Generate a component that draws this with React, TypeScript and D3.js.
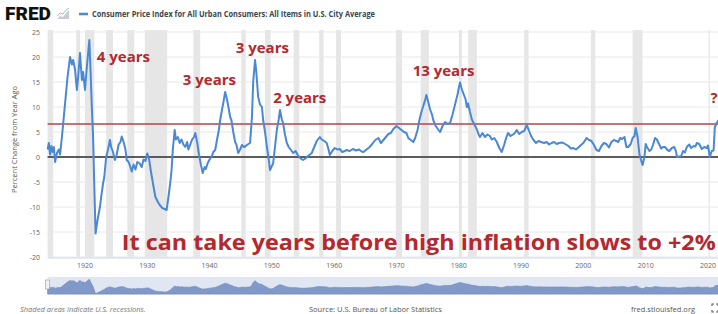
import React, { useRef, useEffect } from "react";
import * as d3 from "d3";

// CPI, percent change from year ago as [year, value]
const cpiChange: [number, number][] = [
  [1914.0, 1.5], [1914.2, 2.8], [1914.4, 0.5], [1914.6, 2.2], [1914.8, 1.0], [1915.0, 2.0],
  [1915.2, -1.0], [1915.5, 0.8], [1915.8, 1.5], [1916.0, 0.5], [1916.3, 4.0], [1916.6, 8.0],
  [1916.9, 12.0], [1917.2, 16.0], [1917.6, 20.0], [1917.9, 18.5], [1918.1, 19.4], [1918.4, 17.5],
  [1918.7, 13.4], [1918.9, 16.0], [1919.2, 20.8], [1919.5, 15.4], [1919.7, 17.0], [1920.0, 13.4],
  [1920.3, 18.0], [1920.7, 23.4], [1920.9, 17.0], [1921.1, 10.0], [1921.3, 4.0], [1921.5, -6.0],
  [1921.7, -15.3], [1921.9, -13.5], [1922.1, -12.0], [1922.4, -10.0], [1922.6, -8.0], [1922.9, -5.3],
  [1923.1, -4.0], [1923.4, 0.0], [1923.7, 1.5], [1924.0, 3.4], [1924.2, 2.0], [1924.5, 1.0],
  [1924.8, -0.6], [1925.1, 0.5], [1925.4, 2.5], [1925.7, 3.0], [1925.9, 4.1], [1926.2, 3.0],
  [1926.5, 1.5], [1926.7, -0.6], [1927.0, -1.0], [1927.3, -2.0], [1927.5, -2.9], [1927.8, -1.5],
  [1928.1, -2.5], [1928.4, -1.0], [1928.8, -1.3], [1929.1, -2.0], [1929.4, -0.5], [1929.7, -0.8],
  [1930.0, 0.7], [1930.3, -0.5], [1930.6, -3.0], [1931.0, -5.9], [1931.3, -8.0], [1931.7, -9.0],
  [1932.0, -9.6], [1932.4, -10.2], [1932.8, -10.4], [1933.1, -10.6], [1933.4, -8.0], [1933.7, -5.0],
  [1933.9, -2.6], [1934.1, 1.5], [1934.4, 5.4], [1934.6, 3.5], [1934.9, 4.0], [1935.2, 2.8],
  [1935.5, 3.5], [1935.8, 2.5], [1936.1, 2.0], [1936.4, 3.0], [1936.6, 1.5], [1936.9, 2.5],
  [1937.2, 3.5], [1937.5, 4.0], [1937.7, 4.8], [1938.0, 3.0], [1938.3, 0.5], [1938.6, -1.5],
  [1938.9, -3.2], [1939.2, -2.0], [1939.4, -2.4], [1939.7, -1.2], [1940.0, -0.5], [1940.3, 0.0],
  [1940.6, 1.0], [1940.9, 1.4], [1941.2, 3.5], [1941.5, 5.5], [1941.7, 7.4], [1942.0, 9.5],
  [1942.3, 11.5], [1942.5, 13.0], [1942.8, 11.5], [1943.1, 9.5], [1943.3, 8.0], [1943.5, 7.4],
  [1943.8, 5.0], [1944.1, 3.0], [1944.3, 2.5], [1944.6, 0.8], [1944.9, 1.5], [1945.2, 2.4],
  [1945.5, 2.0], [1945.8, 2.2], [1946.1, 2.5], [1946.5, 2.8], [1946.8, 8.0], [1947.0, 15.0],
  [1947.3, 19.4], [1947.5, 17.0], [1947.8, 12.0], [1948.1, 10.5], [1948.4, 10.0], [1948.6, 7.4],
  [1948.9, 5.0], [1949.2, 2.0], [1949.5, -0.5], [1949.7, -2.6], [1950.0, -1.8], [1950.2, -1.3],
  [1950.5, 2.0], [1950.8, 5.5], [1951.1, 7.5], [1951.3, 9.4], [1951.6, 7.5], [1951.8, 6.8],
  [1952.1, 4.5], [1952.4, 2.8], [1952.7, 2.0], [1953.0, 1.5], [1953.4, 0.8], [1953.8, 1.2],
  [1954.1, 0.5], [1954.5, -0.2], [1955.0, -0.6], [1955.4, -0.3], [1955.8, 0.2], [1956.1, 0.5],
  [1956.4, 0.8], [1956.8, 2.0], [1957.2, 3.2], [1957.7, 4.0], [1958.0, 3.5], [1958.4, 3.2],
  [1958.8, 2.8], [1959.1, 1.5], [1959.3, 0.4], [1959.7, 1.2], [1960.1, 1.8], [1960.5, 1.5],
  [1960.9, 1.6], [1961.3, 1.0], [1961.7, 1.2], [1962.0, 1.4], [1962.5, 1.2], [1963.0, 1.6],
  [1963.5, 1.3], [1964.0, 1.5], [1964.4, 1.1], [1964.7, 1.0], [1965.1, 1.4], [1965.7, 2.0],
  [1966.1, 2.6], [1966.6, 3.4], [1967.1, 3.8], [1967.5, 2.8], [1967.9, 3.4], [1968.3, 4.0],
  [1968.7, 4.6], [1969.1, 4.8], [1969.5, 5.6], [1970.0, 6.2], [1970.4, 5.8], [1970.8, 5.4],
  [1971.2, 5.0], [1971.6, 4.8], [1971.9, 3.8], [1972.3, 3.4], [1972.7, 3.0], [1973.0, 3.8],
  [1973.4, 5.5], [1973.7, 7.5], [1974.0, 9.0], [1974.3, 10.2], [1974.6, 11.4], [1974.8, 12.4],
  [1975.1, 11.0], [1975.4, 9.5], [1975.7, 8.5], [1975.9, 7.4], [1976.3, 6.2], [1976.7, 5.5],
  [1977.0, 5.0], [1977.4, 6.2], [1977.8, 7.0], [1978.2, 6.6], [1978.6, 6.8], [1979.0, 8.5],
  [1979.4, 10.5], [1979.8, 12.5], [1980.0, 13.8], [1980.2, 14.9], [1980.5, 13.5], [1980.8, 12.5],
  [1981.1, 11.5], [1981.3, 10.0], [1981.5, 10.7], [1981.8, 9.0], [1982.1, 7.5], [1982.5, 6.5],
  [1982.9, 5.5], [1983.2, 4.5], [1983.4, 4.0], [1983.8, 4.8], [1984.2, 4.0], [1984.6, 4.5],
  [1985.0, 4.2], [1985.3, 3.5], [1985.7, 3.8], [1986.1, 3.0], [1986.5, 1.8], [1986.9, 1.0],
  [1987.3, 2.5], [1987.6, 3.8], [1987.9, 4.8], [1988.3, 4.2], [1988.7, 4.5], [1989.0, 4.8],
  [1989.3, 5.4], [1989.7, 4.6], [1990.1, 5.0], [1990.5, 5.2], [1990.9, 6.4], [1991.2, 5.5],
  [1991.6, 4.2], [1992.0, 3.4], [1992.4, 2.8], [1992.8, 3.2], [1993.2, 3.0], [1993.7, 2.8],
  [1994.1, 3.0], [1994.5, 2.5], [1994.9, 2.8], [1995.3, 3.0], [1995.7, 2.6], [1996.1, 2.8],
  [1996.5, 2.9], [1996.8, 2.8], [1997.2, 2.5], [1997.6, 2.2], [1998.0, 1.7], [1998.4, 1.8],
  [1998.8, 1.5], [1999.2, 1.9], [1999.6, 2.4], [2000.0, 2.8], [2000.5, 3.8], [2000.9, 3.4],
  [2001.3, 3.2], [2001.7, 2.4], [2002.1, 1.4], [2002.5, 1.2], [2002.9, 2.2], [2003.3, 2.8],
  [2003.7, 2.6], [2004.1, 1.9], [2004.5, 3.0], [2004.9, 3.4], [2005.3, 3.2], [2005.6, 3.0],
  [2005.9, 3.8], [2006.2, 3.6], [2006.6, 4.0], [2006.9, 2.0], [2007.2, 2.0], [2007.6, 2.6],
  [2007.9, 3.8], [2008.2, 4.2], [2008.4, 5.8], [2008.7, 4.0], [2009.0, 0.5], [2009.3, -0.8],
  [2009.5, -1.6], [2009.8, 0.0], [2010.0, 2.6], [2010.2, 2.0], [2010.6, 1.2], [2010.9, 1.5],
  [2011.2, 2.5], [2011.5, 3.8], [2011.8, 3.5], [2012.1, 2.7], [2012.5, 1.7], [2012.8, 2.0],
  [2013.1, 2.0], [2013.5, 1.4], [2013.8, 1.2], [2014.2, 1.8], [2014.6, 2.0], [2014.9, 1.0],
  [2015.0, 0.0], [2015.4, 0.1], [2015.7, 0.2], [2016.0, 1.2], [2016.3, 0.9], [2016.6, 2.0],
  [2017.0, 2.5], [2017.3, 1.8], [2017.7, 2.2], [2018.0, 2.1], [2018.2, 2.8], [2018.6, 2.6],
  [2019.0, 1.6], [2019.4, 2.0], [2019.8, 1.8], [2020.0, 2.3], [2020.3, 0.0], [2020.6, 1.2],
  [2020.9, 1.3], [2021.1, 6.0], [2021.4, 6.8], [2021.7, 7.4],
];

// NBER recessions (start, end)
const recessions: [number, number][] = [
  [1913.0, 1914.9], [1918.6, 1919.2], [1920.0, 1921.5], [1923.4, 1924.5], [1926.8, 1927.9],
  [1929.6, 1933.2], [1937.4, 1938.5], [1945.1, 1945.8], [1948.9, 1949.8], [1953.5, 1954.4],
  [1957.6, 1958.3], [1960.3, 1961.1], [1969.9, 1970.9], [1973.9, 1975.2], [1980.0, 1980.5],
  [1981.5, 1982.9], [1990.5, 1991.2], [2001.2, 2001.9], [2007.9, 2009.5], [2020.1, 2020.3],
];

const yTicks = [25, 20, 15, 10, 5, 0, -5, -10, -15, -20];
const xTicks = [1920, 1930, 1940, 1950, 1960, 1970, 1980, 1990, 2000, 2010, 2020];
const highLevel = 6.6;

const annotations: { text: string; year: number; value: number }[] = [
  { text: "4 years", year: 1921.9, value: 19.0 },
  { text: "3 years", year: 1935.7, value: 14.4 },
  { text: "3 years", year: 1944.2, value: 20.8 },
  { text: "2 years", year: 1950.2, value: 10.8 },
  { text: "13 years", year: 1972.6, value: 16.2 },
  { text: "?", year: 2020.4, value: 10.8 },
];
const headline = "It can take years before high inflation slows to +2%";

const title =
  "Consumer Price Index for All Urban Consumers: All Items in U.S. City Average";

const W = 718;
const H = 314;
const RED = "#b4282e";
const BLUE = "#4a88d6";

function App() {
  const canvas = useRef<SVGSVGElement>(null);

  useEffect(() => {
    const svg = d3.select(canvas.current);
    svg.selectAll("*").remove();

    const font = "'Open Sans', 'DejaVu Sans', sans-serif";
    const x = d3.scaleLinear().domain([1914, 2022]).range([47.6, 47.6 + 108 * 6.23]);
    const y = d3.scaleLinear().domain([-20, 25]).range([257, 32]);
    const left = x(1914);

    // header
    svg.append("text").attr("x", 5).attr("y", 20).text("FRED")
      .attr("font-family", "Roboto, 'DejaVu Sans', sans-serif").attr("font-weight", 900)
      .attr("font-size", 19).attr("textLength", 46).attr("lengthAdjust", "spacingAndGlyphs")
      .attr("fill", "#111");
    const icon = svg.append("g").attr("transform", "translate(57,8)");
    icon.append("path").attr("d", "M0,11 L3,8 L6,9 L9,5 L12,2 L12,11 Z").attr("fill", "#c9ccd1");
    icon.append("path").attr("d", "M0,8 L3,5 L6,6 L9,2 L12,0").attr("fill", "none")
      .attr("stroke", "#b5b9bf").attr("stroke-width", 1);
    svg.append("line").attr("x1", 79).attr("x2", 88).attr("y1", 14).attr("y2", 14)
      .attr("stroke", BLUE).attr("stroke-width", 2.5);
    svg.append("text").attr("x", 92).attr("y", 17).text(title)
      .attr("font-family", font).attr("font-weight", 700).attr("font-size", 8)
      .attr("textLength", 283).attr("lengthAdjust", "spacingAndGlyphs").attr("fill", "#3a4552");

    // recessions
    svg.append("g").selectAll("rect").data(recessions).join("rect")
      .attr("x", (d) => Math.max(left, x(d[0])))
      .attr("width", (d) => x(d[1]) - Math.max(left, x(d[0])))
      .attr("y", y(25) - 2).attr("height", y(-20) - y(25) + 2)
      .attr("fill", "#e6e6e6");

    // grid
    svg.append("g").selectAll("line").data(yTicks).join("line")
      .attr("x1", left).attr("x2", W)
      .attr("y1", (d) => y(d)).attr("y2", (d) => y(d))
      .attr("stroke", "#e8e8e8").attr("stroke-width", 1);

    svg.append("g").selectAll("text").data(yTicks).join("text")
      .attr("x", 40).attr("y", (d) => y(d) + 2.5).attr("text-anchor", "end")
      .text((d) => d).attr("font-family", font).attr("font-size", 7).attr("fill", "#666");

    svg.append("text").text("Percent Change from Year Ago")
      .attr("transform", `translate(17,${y(3.5)}) rotate(-90)`).attr("text-anchor", "middle")
      .attr("font-family", font).attr("font-size", 7.5).attr("fill", "#555");

    svg.append("line").attr("x1", left).attr("x2", W).attr("y1", y(-20) + 1).attr("y2", y(-20) + 1)
      .attr("stroke", "#ccd6eb");
    svg.append("g").selectAll("text").data(xTicks).join("text")
      .attr("x", (d) => x(d)).attr("y", 268).attr("text-anchor", "middle")
      .text((d) => d).attr("font-family", font).attr("font-size", 7).attr("fill", "#666");

    // reference lines
    svg.append("line").attr("x1", left).attr("x2", W).attr("y1", y(0)).attr("y2", y(0))
      .attr("stroke", "#2b2b2b").attr("stroke-width", 1.5);
    svg.append("line").attr("x1", left).attr("x2", W).attr("y1", y(highLevel)).attr("y2", y(highLevel))
      .attr("stroke", "#b2454a").attr("stroke-width", 1.6);

    // series
    const line = d3.line<[number, number]>().x((d) => x(d[0])).y((d) => y(d[1]));
    svg.append("path").datum(cpiChange).attr("d", line)
      .attr("fill", "none").attr("stroke", BLUE).attr("stroke-width", 2)
      .attr("stroke-linejoin", "round");

    // annotations
    svg.append("g").selectAll("text").data(annotations).join("text")
      .attr("x", (d) => x(d.year)).attr("y", (d) => y(d.value)).text((d) => d.text)
      .attr("font-family", font).attr("font-weight", 700).attr("font-size", 15).attr("fill", RED);
    svg.append("text").attr("x", x(1925.9)).attr("y", y(-18.6)).text(headline)
      .attr("font-family", font).attr("font-weight", 700).attr("font-size", 22)
      .attr("textLength", 594).attr("lengthAdjust", "spacingAndGlyphs").attr("fill", RED);

    // navigator
    const yNav = d3.scaleLinear().domain([-16, 24]).range([294, 279]);
    svg.append("rect").attr("x", left).attr("y", 277).attr("width", W - left).attr("height", 18)
      .attr("fill", "#e1e7f2");
    const area = d3.area<[number, number]>().x((d) => x(d[0])).y0(294).y1((d) => yNav(d[1]));
    svg.append("path").datum(cpiChange).attr("d", area).attr("fill", "#8199c8")
      .attr("stroke", "#6f88bb").attr("stroke-width", 0.6);
    svg.append("rect").attr("x", left - 2).attr("y", 280).attr("width", 4).attr("height", 9)
      .attr("fill", "#f2f2f2").attr("stroke", "#999").attr("stroke-width", 0.6);

    // footer
    svg.append("text").attr("x", 20).attr("y", 312).text("Shaded areas indicate U.S. recessions.")
      .attr("font-family", font).attr("font-style", "italic").attr("font-size", 7.5).attr("fill", "#777");
    svg.append("text").attr("x", 309).attr("y", 312).text("Source: U.S. Bureau of Labor Statistics")
      .attr("font-family", font).attr("font-size", 7.5).attr("fill", "#555");
    svg.append("text").attr("x", 631).attr("y", 312).text("fred.stlouisfed.org")
      .attr("font-family", font).attr("font-size", 7.5).attr("fill", "#555");
    const fs = svg.append("g").attr("stroke", "#666").attr("stroke-width", 1.2).attr("fill", "none");
    fs.append("path").attr("d", "M712,306 v-2 h2 M716,304 h2 v2 M718,310 v2 h-2 M714,312 h-2 v-2");
  }, []);

  return (
    <svg
      ref={canvas}
      width={W}
      height={H}
      style={{ position: "absolute", left: 0, top: 0, background: "#fff" }}
    />
  );
}

export default App;
